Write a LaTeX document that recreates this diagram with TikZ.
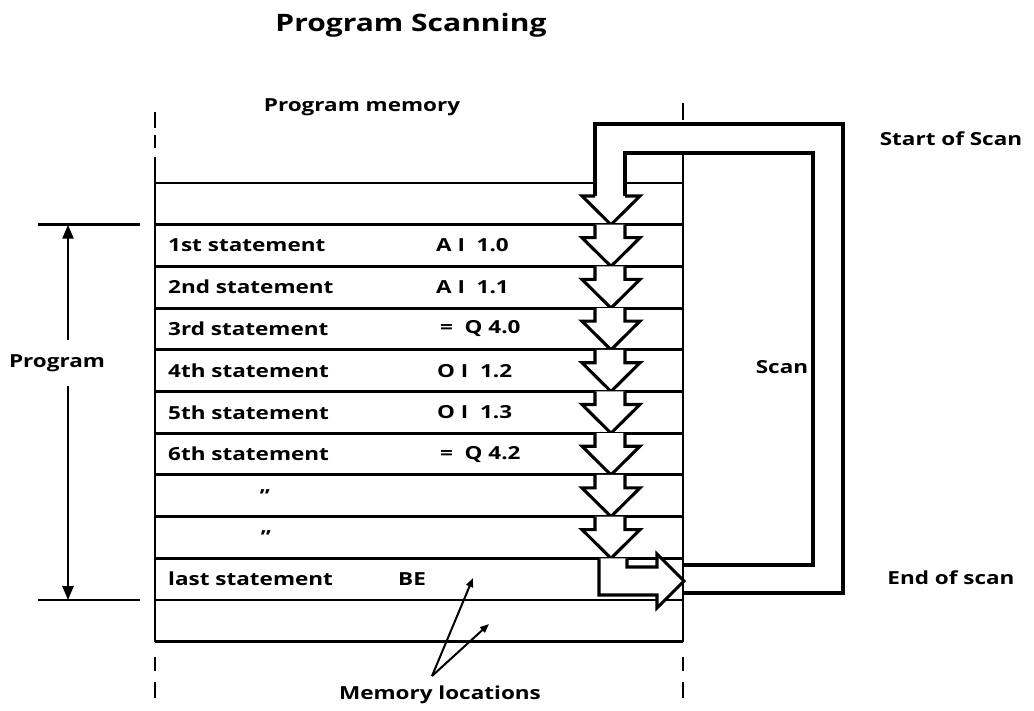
\documentclass[tikz,border=0pt]{standalone}
\usepackage{fontspec}
\setmainfont{Open Sans}[FakeStretch=1.25]
\usetikzlibrary{arrows.meta}
\begin{document}
\begin{tikzpicture}[x=1pt,y=-1pt,
  rule/.style={line width=2.9pt},
  frame/.style={line width=3.1pt,line join=miter,miter limit=20},
  lab/.style={font=\fontsize{18}{20}\selectfont\bfseries,inner sep=0pt},
  code/.style={lab,anchor=west},
  heading/.style={font=\fontsize{24}{28}\selectfont\bfseries,inner sep=0pt},
  pointer/.style={line width=2pt,-{Triangle[length=9pt,width=7pt]}},
  dimarrow/.style={line width=2.4pt,-{Triangle[length=14pt,width=11pt]}}
]
\useasboundingbox (0,0) rectangle (1034,711);

% title and captions
\node[heading] (title) at (411,25) {Program Scanning};
\node[lab] (pmem) at (362,107) {Program memory};
\node[lab] (start) at (951,139) {Start of Scan};
\node[lab] (scan) at (782,367) {Scan};
\node[lab] (endscan) at (951,578) {End of scan};
\node[lab] (memloc) at (440,695) {Memory locations};

% memory cells
\def\rowh{41.7}
\foreach \k in {1,...,11}
  \draw[rule] (155,{183+\rowh*\k}) -- (683,{183+\rowh*\k});
\draw[rule] (155,183) -- (595,183);
\draw[rule] (625,183) -- (683,183);
\draw[rule] (155,157) -- (155,{183+11*\rowh});
\draw[rule] (683,153) -- (683,{183+11*\rowh});

% broken continuation of the memory edges
\draw[rule] (155,112) -- (155,128) (155,135) -- (155,148);
\draw[rule] (683,103) -- (683,120);
\draw[rule] (155,657) -- (155,671) (155,682) -- (155,698);
\draw[rule] (683,657) -- (683,671) (683,682) -- (683,698);

% statements
\foreach \k/\s/\c/\cx in {1/1st statement/A I\ \ 1.0/436,
                          2/2nd statement/A I\ \ 1.1/436,
                          3/3rd statement/=\ \ Q 4.0/440,
                          4/4th statement/O I\ \ 1.2/437,
                          5/5th statement/O I\ \ 1.3/437,
                          6/6th statement/=\ \ Q 4.2/440}{
  \node[lab,anchor=west] (st\k) at (168,{183+\rowh*\k+\rowh/2}) {\s};
  \node[code] (cd\k) at (\cx,{183+\rowh*\k+\rowh/2}) {\c};
}
\node[lab] (dit1) at (265,{183+\rowh*7+\rowh/2}) {"};
\node[lab] (dit2) at (266,{183+\rowh*8+\rowh/2}) {"};
\node[lab,anchor=west] (st9) at (168,{183+\rowh*9+\rowh/2}) {last statement};
\node[code] (cd9) at (398,{183+\rowh*9+\rowh/2}) {BE};

% scan loop (double-line band)
\draw[frame] (595,196) -- (595,124) -- (843,124) -- (843,593) -- (683,593);
\draw[frame] (625,196) -- (625,153) -- (813,153) -- (813,565) -- (683,565);
\filldraw[frame,fill=white] (595,196) -- (582,196) -- (611,{183+\rowh}) -- (640,196) -- (625,196);

% downward steps through the statements
\foreach \k in {1,...,8}{
  \pgfmathsetmacro\t{183+\rowh*\k}
  \filldraw[frame,fill=white] (595,\t) -- (595,\t+13) -- (582,\t+13)
     -- (611,\t+\rowh) -- (640,\t+13) -- (625,\t+13) -- (625,\t);
}

% turn to the right at the last statement
\pgfmathsetmacro\lt{183+\rowh*9}
\filldraw[frame,fill=white] (627,\lt) -- (627,567) -- (657,567) -- (657,554)
   -- (684,581) -- (657,608) -- (657,595) -- (599,595) -- (599,\lt);

% program extent
\coordinate (ptop) at (68,{183+\rowh});
\coordinate (pbot) at (68,{183+10*\rowh});
\draw[rule] (38,{183+\rowh}) -- (140,{183+\rowh});
\draw[rule] (38,{183+10*\rowh}) -- (140,{183+10*\rowh});
\node[lab] (prog) at (57,363) {Program};
\draw[dimarrow] (prog.north -| ptop) ++(0,-14) -- (ptop);
\draw[dimarrow] (prog.south -| pbot) ++(0,14) -- (pbot);

% pointers to memory locations
\coordinate (apex) at (432,676);
\coordinate (loc1) at (473,578);
\coordinate (loc2) at (489,624);
\draw[pointer] (apex) -- (loc1);
\draw[pointer] (apex) -- (loc2);
\end{tikzpicture}
\end{document}
